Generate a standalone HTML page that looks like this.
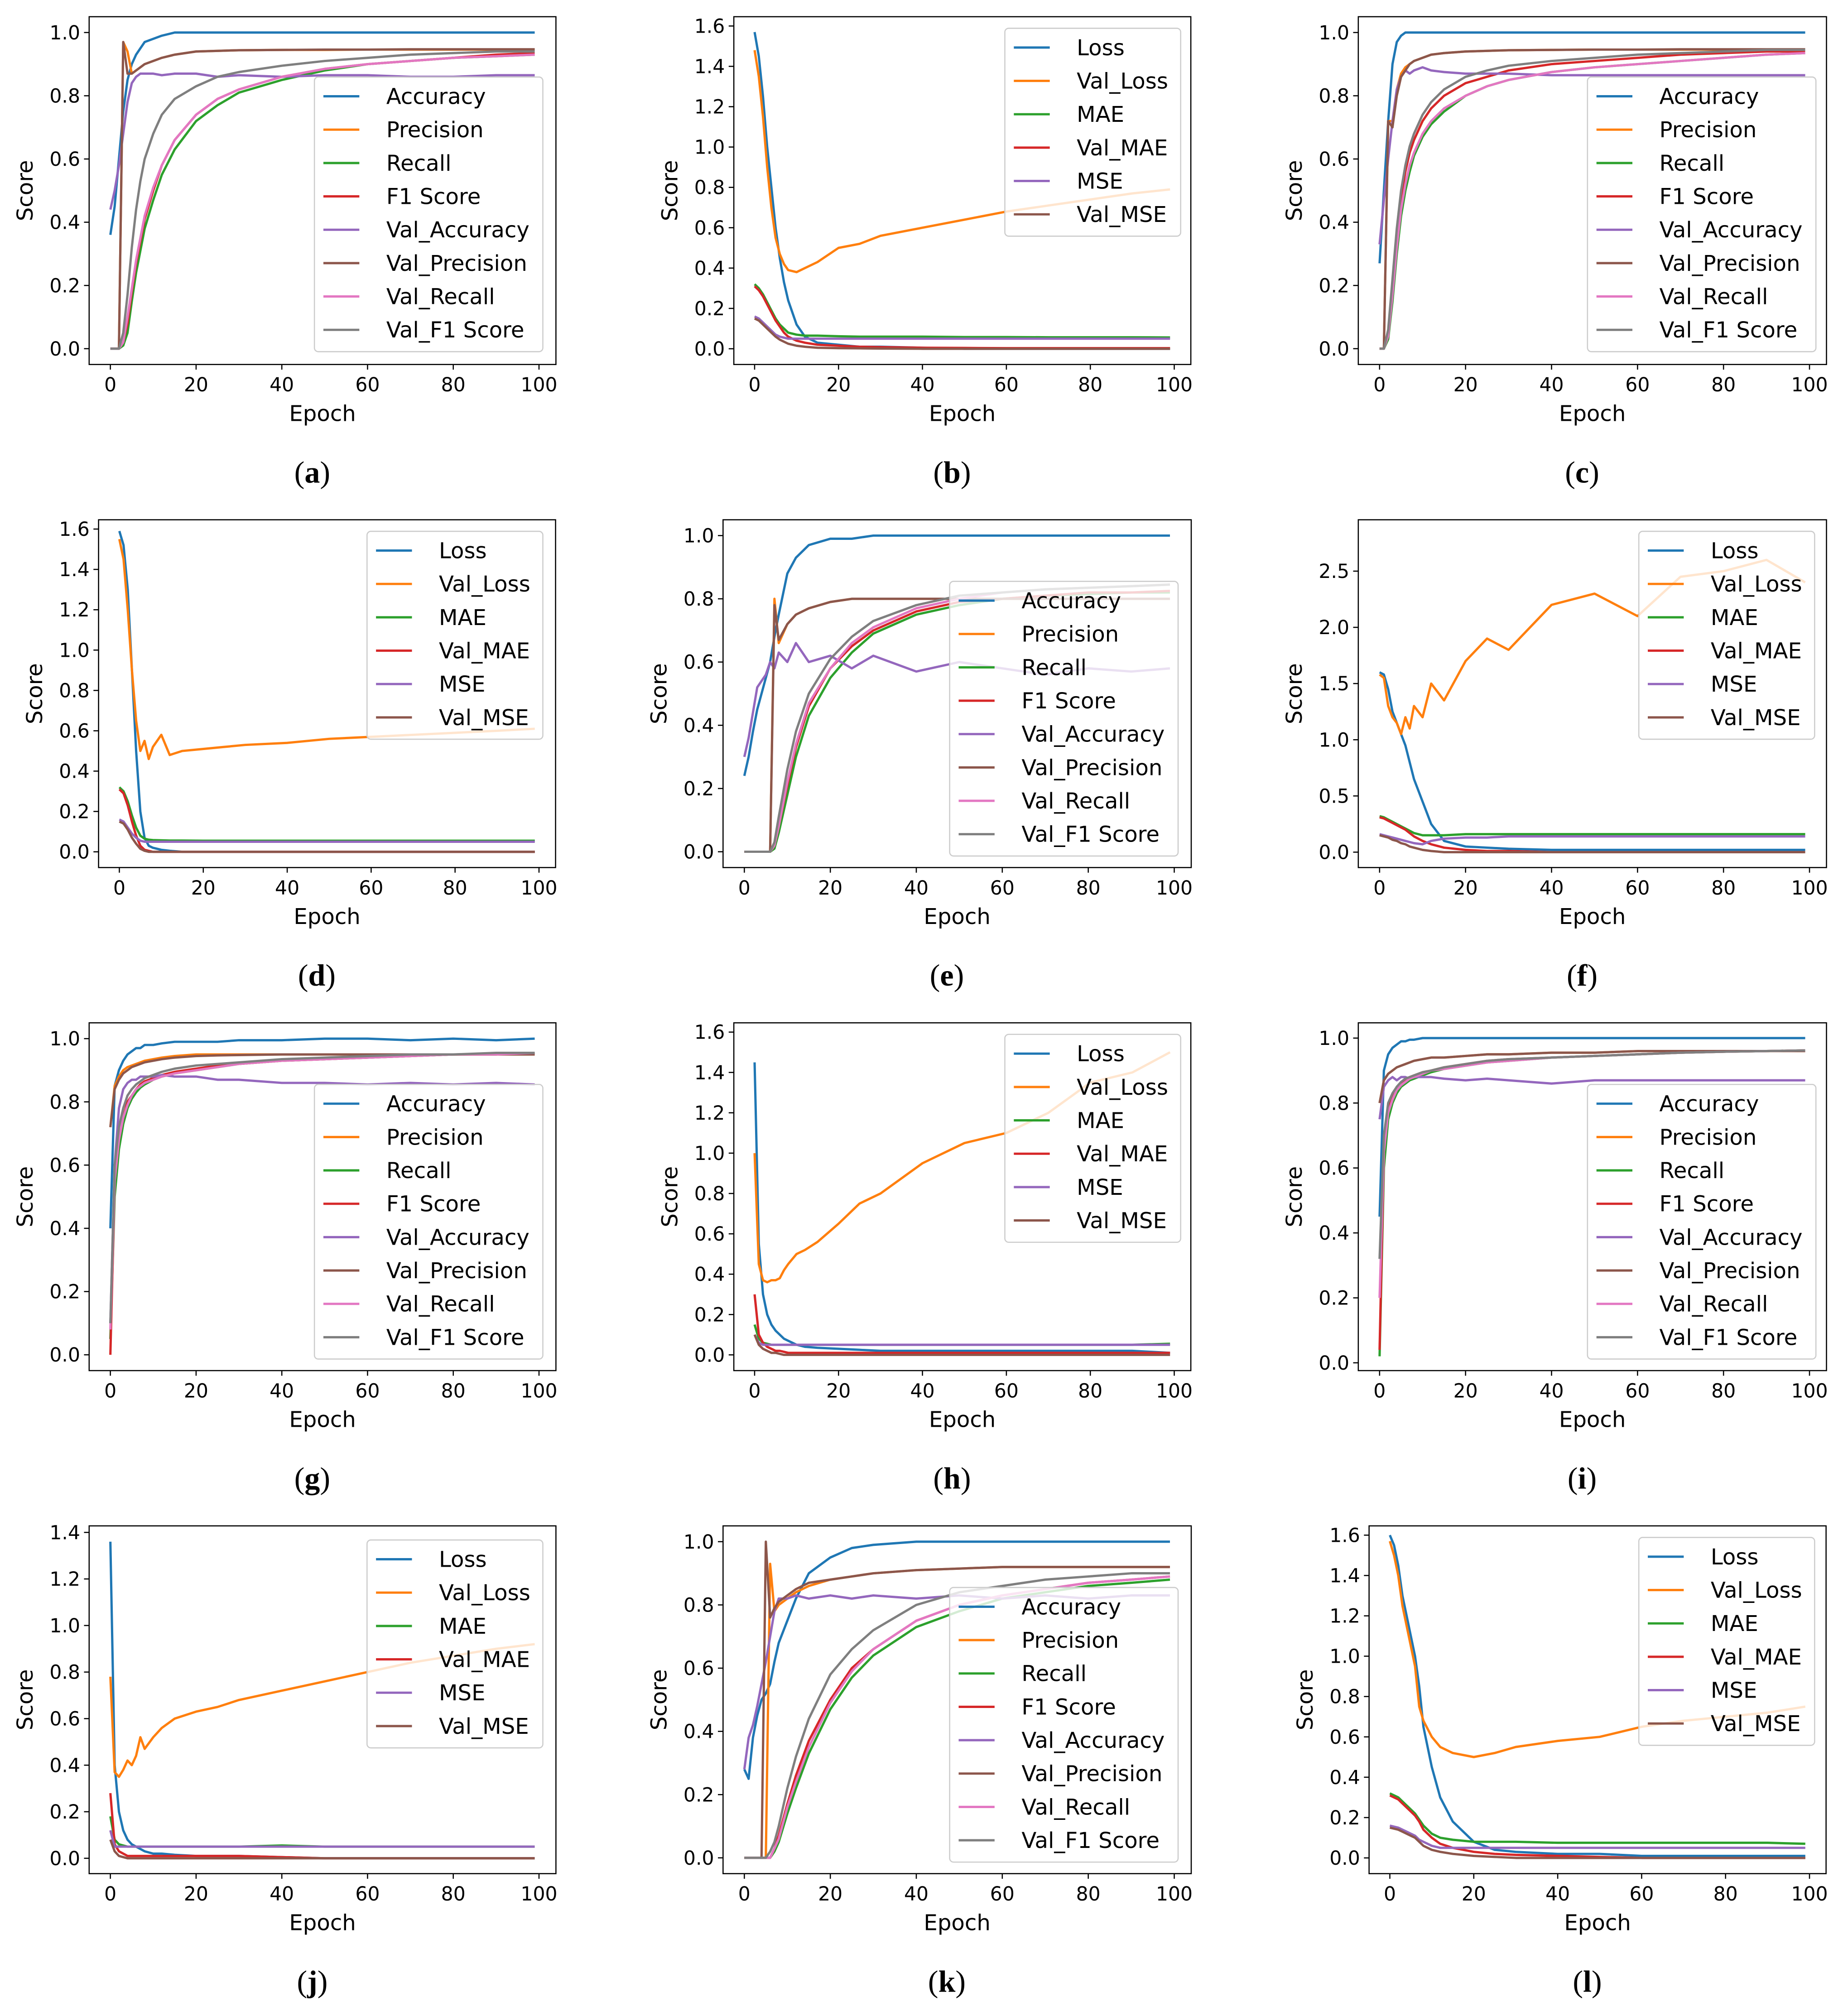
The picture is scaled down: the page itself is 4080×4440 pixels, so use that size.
<!DOCTYPE html>
<html><head><meta charset="utf-8"><style>
html,body{margin:0;padding:0;background:#fff;}
svg{display:block;}
</style></head><body>
<svg id="fig" width="4080" height="4440" viewBox="0 0 1440 1567" xmlns="http://www.w3.org/2000/svg"></svg>
<script>
const epochs=[0,1,2,3,4,5,6,7,8,10,12,15,20,25,30,40,50,60,70,80,90,99];
const scoreNames=["Accuracy","Precision","Recall","F1 Score","Val_Accuracy","Val_Precision","Val_Recall","Val_F1 Score"];
const lossNames=["Loss","Val_Loss","MAE","Val_MAE","MSE","Val_MSE"];
const colors=["#1f77b4","#ff7f0e","#2ca02c","#d62728","#9467bd","#8c564b","#e377c2","#7f7f7f"];
const scoreTicks=[0,0.2,0.4,0.6,0.8,1.0];
const lossTicks=[0,0.2,0.4,0.6,0.8,1.0,1.2,1.4,1.6];
const lossTicksF=[0,0.5,1.0,1.5,2.0,2.5];
const lossTicksJ=[0,0.2,0.4,0.6,0.8,1.0,1.2,1.4];
const xTicks=[0,20,40,60,80,100];

// (a)
const a_acc=[0.36,0.45,0.6,0.75,0.85,0.9,0.93,0.95,0.97,0.98,0.99,1,1,1,1,1,1,1,1,1,1,1];
const a_prec=[0,0,0,0.97,0.94,0.87,0.88,0.89,0.9,0.91,0.92,0.93,0.94,0.942,0.944,0.945,0.945,0.946,0.946,0.946,0.946,0.946];
const a_rec=[0,0,0,0.01,0.05,0.15,0.24,0.31,0.38,0.47,0.55,0.63,0.72,0.77,0.81,0.85,0.88,0.9,0.91,0.92,0.925,0.93];
const a_f1=[0,0,0,0.02,0.08,0.18,0.27,0.34,0.41,0.5,0.58,0.66,0.74,0.79,0.82,0.86,0.885,0.9,0.91,0.92,0.93,0.935];
const a_vacc=[0.44,0.5,0.58,0.68,0.78,0.84,0.86,0.87,0.87,0.87,0.865,0.87,0.87,0.86,0.865,0.86,0.865,0.865,0.86,0.86,0.865,0.865];
const a_vprec=[0,0,0,0.97,0.87,0.87,0.88,0.89,0.9,0.91,0.92,0.93,0.94,0.942,0.944,0.945,0.946,0.946,0.947,0.947,0.947,0.947];
const a_vrec=[0,0,0,0.02,0.1,0.19,0.28,0.35,0.42,0.51,0.58,0.66,0.74,0.79,0.82,0.86,0.885,0.9,0.91,0.92,0.925,0.93];
const a_vf1=[0,0,0,0.05,0.17,0.32,0.44,0.53,0.6,0.68,0.74,0.79,0.83,0.86,0.875,0.895,0.91,0.92,0.93,0.935,0.94,0.94];
// (b)
const b_loss=[1.57,1.45,1.25,1.0,0.8,0.6,0.45,0.33,0.24,0.12,0.06,0.03,0.02,0.01,0.01,0.005,0,0,0,0,0,0];
const b_vloss=[1.48,1.35,1.15,0.9,0.7,0.55,0.47,0.42,0.39,0.38,0.4,0.43,0.5,0.52,0.56,0.6,0.64,0.68,0.71,0.74,0.77,0.79];
const b_mae=[0.32,0.3,0.27,0.23,0.19,0.15,0.12,0.1,0.08,0.07,0.065,0.065,0.062,0.06,0.06,0.06,0.058,0.058,0.057,0.057,0.057,0.056];
const b_vmae=[0.31,0.29,0.26,0.22,0.18,0.14,0.11,0.08,0.06,0.04,0.03,0.02,0.015,0.01,0.008,0.005,0.004,0.003,0.003,0.003,0.003,0.003];
const b_mse=[0.16,0.15,0.13,0.11,0.09,0.07,0.06,0.055,0.05,0.05,0.05,0.05,0.05,0.05,0.05,0.05,0.05,0.05,0.05,0.05,0.05,0.05];
const b_vmse=[0.15,0.14,0.12,0.1,0.08,0.06,0.045,0.035,0.025,0.015,0.01,0.005,0.003,0.002,0.001,0,0,0,0,0,0,0];
// (c)
const c_acc=[0.27,0.5,0.72,0.9,0.97,0.99,1,1,1,1,1,1,1,1,1,1,1,1,1,1,1,1];
const c_prec=[0,0,0.72,0.72,0.82,0.87,0.89,0.9,0.91,0.92,0.93,0.935,0.94,0.942,0.944,0.945,0.946,0.946,0.946,0.946,0.946,0.946];
const c_rec=[0,0,0.03,0.15,0.3,0.42,0.5,0.56,0.61,0.67,0.71,0.75,0.8,0.83,0.85,0.875,0.89,0.9,0.91,0.92,0.93,0.935];
const c_f1=[0,0,0.05,0.2,0.36,0.48,0.56,0.62,0.66,0.72,0.76,0.8,0.84,0.86,0.88,0.9,0.91,0.92,0.93,0.935,0.94,0.94];
const c_vacc=[0.33,0.47,0.6,0.72,0.82,0.86,0.88,0.87,0.88,0.89,0.88,0.875,0.87,0.87,0.87,0.865,0.865,0.865,0.865,0.865,0.865,0.865];
const c_vprec=[0,0,0.72,0.7,0.8,0.86,0.88,0.9,0.91,0.92,0.93,0.935,0.94,0.942,0.944,0.945,0.946,0.946,0.947,0.947,0.947,0.947];
const c_vrec=[0,0,0.04,0.17,0.32,0.44,0.52,0.58,0.62,0.68,0.72,0.76,0.8,0.83,0.85,0.875,0.89,0.9,0.91,0.92,0.93,0.935];
const c_vf1=[0,0,0.06,0.22,0.38,0.5,0.58,0.64,0.68,0.74,0.78,0.82,0.86,0.88,0.895,0.91,0.92,0.93,0.935,0.94,0.945,0.945];
// (d)
const d_loss=[1.59,1.52,1.3,0.9,0.5,0.2,0.07,0.03,0.02,0.01,0.005,0,0,0,0,0,0,0,0,0,0,0];
const d_vloss=[1.55,1.45,1.2,0.9,0.65,0.5,0.55,0.46,0.52,0.58,0.48,0.5,0.51,0.52,0.53,0.54,0.56,0.57,0.58,0.59,0.6,0.61];
const d_mae=[0.32,0.3,0.25,0.18,0.12,0.08,0.065,0.06,0.058,0.057,0.056,0.056,0.055,0.055,0.055,0.055,0.055,0.055,0.055,0.055,0.055,0.055];
const d_vmae=[0.31,0.29,0.23,0.15,0.08,0.03,0.01,0.005,0,0,0,0,0,0,0,0,0,0,0,0,0,0];
const d_mse=[0.16,0.15,0.12,0.09,0.07,0.055,0.05,0.05,0.05,0.05,0.05,0.05,0.05,0.05,0.05,0.05,0.05,0.05,0.05,0.05,0.05,0.05];
const d_vmse=[0.15,0.14,0.11,0.07,0.04,0.015,0.005,0,0,0,0,0,0,0,0,0,0,0,0,0,0,0];
// (e)
const e_acc=[0.24,0.3,0.38,0.45,0.5,0.55,0.6,0.68,0.75,0.88,0.93,0.97,0.99,0.99,1,1,1,1,1,1,1,1];
const e_prec=[0,0,0,0,0,0,0,0.8,0.66,0.72,0.75,0.77,0.79,0.8,0.8,0.8,0.8,0.8,0.8,0.8,0.8,0.8];
const e_rec=[0,0,0,0,0,0,0,0.01,0.06,0.18,0.3,0.43,0.55,0.63,0.69,0.75,0.78,0.8,0.81,0.815,0.82,0.82];
const e_f1=[0,0,0,0,0,0,0,0.02,0.08,0.21,0.33,0.46,0.58,0.65,0.7,0.76,0.79,0.8,0.81,0.82,0.82,0.825];
const e_vacc=[0.3,0.36,0.44,0.52,0.54,0.56,0.6,0.58,0.63,0.6,0.66,0.6,0.62,0.58,0.62,0.57,0.6,0.58,0.56,0.58,0.57,0.58];
const e_vprec=[0,0,0,0,0,0,0,0.78,0.67,0.72,0.75,0.77,0.79,0.8,0.8,0.8,0.8,0.8,0.8,0.8,0.8,0.8];
const e_vrec=[0,0,0,0,0,0,0,0.02,0.08,0.22,0.34,0.47,0.58,0.66,0.71,0.77,0.8,0.82,0.83,0.835,0.84,0.845];
const e_vf1=[0,0,0,0,0,0,0,0.03,0.11,0.26,0.38,0.5,0.61,0.68,0.73,0.78,0.81,0.82,0.83,0.835,0.84,0.845];
// (f)
const f_loss=[1.6,1.58,1.45,1.25,1.15,1.05,0.95,0.8,0.65,0.45,0.25,0.1,0.05,0.04,0.03,0.02,0.02,0.02,0.02,0.02,0.02,0.02];
const f_vloss=[1.58,1.55,1.3,1.2,1.15,1.05,1.2,1.1,1.3,1.2,1.5,1.35,1.7,1.9,1.8,2.2,2.3,2.1,2.45,2.5,2.6,2.4];
const f_mae=[0.32,0.31,0.29,0.27,0.25,0.23,0.21,0.19,0.17,0.15,0.15,0.15,0.16,0.16,0.16,0.16,0.16,0.16,0.16,0.16,0.16,0.16];
const f_vmae=[0.31,0.3,0.28,0.26,0.24,0.22,0.2,0.17,0.14,0.1,0.07,0.04,0.02,0.01,0.01,0,0,0,0,0,0,0];
const f_mse=[0.16,0.15,0.14,0.13,0.12,0.11,0.1,0.09,0.08,0.07,0.1,0.12,0.13,0.13,0.14,0.14,0.14,0.14,0.14,0.14,0.14,0.14];
const f_vmse=[0.15,0.14,0.13,0.11,0.1,0.08,0.07,0.05,0.04,0.02,0.01,0,0,0,0,0,0,0,0,0,0,0];
// (g)
const g_acc=[0.4,0.85,0.9,0.93,0.95,0.96,0.97,0.97,0.98,0.98,0.985,0.99,0.99,0.99,0.995,0.995,1,1,0.995,1,0.995,1];
const g_prec=[0.72,0.85,0.88,0.9,0.91,0.915,0.92,0.925,0.93,0.935,0.94,0.945,0.95,0.95,0.95,0.95,0.95,0.95,0.95,0.95,0.95,0.95];
const g_rec=[0.05,0.5,0.65,0.73,0.78,0.81,0.83,0.845,0.855,0.87,0.88,0.89,0.9,0.91,0.92,0.93,0.935,0.94,0.945,0.95,0.95,0.955];
const g_f1=[0,0.55,0.68,0.75,0.8,0.82,0.84,0.855,0.865,0.875,0.885,0.895,0.905,0.915,0.92,0.93,0.935,0.94,0.945,0.95,0.95,0.955];
const g_vacc=[0.1,0.6,0.78,0.84,0.86,0.87,0.87,0.88,0.88,0.88,0.885,0.88,0.88,0.87,0.87,0.86,0.86,0.855,0.86,0.855,0.86,0.855];
const g_vprec=[0.72,0.84,0.87,0.89,0.9,0.91,0.915,0.92,0.925,0.93,0.935,0.94,0.945,0.947,0.948,0.95,0.95,0.95,0.95,0.95,0.95,0.95];
const g_vrec=[0.08,0.55,0.68,0.75,0.79,0.82,0.84,0.85,0.86,0.87,0.88,0.89,0.9,0.91,0.92,0.93,0.935,0.94,0.945,0.95,0.95,0.955];
const g_vf1=[0.1,0.6,0.72,0.78,0.82,0.84,0.855,0.865,0.875,0.885,0.895,0.905,0.915,0.92,0.925,0.935,0.94,0.945,0.95,0.95,0.955,0.955];
// (h)
const h_loss=[1.45,0.55,0.3,0.2,0.15,0.12,0.1,0.08,0.07,0.05,0.04,0.035,0.03,0.025,0.02,0.02,0.02,0.02,0.02,0.02,0.02,0.01];
const h_vloss=[1.0,0.45,0.37,0.36,0.37,0.37,0.38,0.42,0.45,0.5,0.52,0.56,0.65,0.75,0.8,0.95,1.05,1.1,1.2,1.35,1.4,1.5];
const h_mae=[0.15,0.08,0.06,0.055,0.05,0.05,0.05,0.05,0.05,0.05,0.05,0.05,0.05,0.05,0.05,0.05,0.05,0.05,0.05,0.05,0.05,0.055];
const h_vmae=[0.3,0.1,0.06,0.04,0.03,0.02,0.02,0.015,0.01,0.01,0.01,0.01,0.01,0.01,0.01,0.01,0.01,0.01,0.01,0.01,0.01,0.01];
const h_mse=[0.1,0.06,0.05,0.05,0.05,0.05,0.05,0.05,0.05,0.05,0.05,0.05,0.05,0.05,0.05,0.05,0.05,0.05,0.05,0.05,0.05,0.05];
const h_vmse=[0.1,0.05,0.03,0.02,0.01,0.01,0.005,0,0,0,0,0,0,0,0,0,0,0,0,0,0,0];
// (i)
const i_acc=[0.45,0.9,0.95,0.97,0.98,0.99,0.99,0.995,0.995,1,1,1,1,1,1,1,1,1,1,1,1,1];
const i_prec=[0.8,0.87,0.89,0.9,0.91,0.915,0.92,0.925,0.93,0.935,0.94,0.94,0.945,0.95,0.95,0.955,0.955,0.96,0.96,0.96,0.96,0.96];
const i_rec=[0.02,0.6,0.75,0.8,0.83,0.85,0.86,0.87,0.875,0.885,0.895,0.905,0.915,0.925,0.93,0.94,0.945,0.95,0.955,0.958,0.96,0.962];
const i_f1=[0.04,0.65,0.78,0.82,0.85,0.86,0.87,0.88,0.885,0.895,0.9,0.91,0.92,0.93,0.935,0.94,0.945,0.95,0.955,0.958,0.96,0.962];
const i_vacc=[0.75,0.85,0.87,0.88,0.87,0.88,0.88,0.875,0.88,0.88,0.88,0.875,0.87,0.875,0.87,0.86,0.87,0.87,0.87,0.87,0.87,0.87];
const i_vprec=[0.8,0.87,0.89,0.9,0.91,0.915,0.92,0.925,0.93,0.935,0.94,0.94,0.945,0.95,0.95,0.955,0.955,0.96,0.96,0.96,0.96,0.96];
const i_vrec=[0.2,0.65,0.77,0.81,0.84,0.855,0.865,0.875,0.88,0.89,0.9,0.905,0.915,0.925,0.93,0.94,0.945,0.95,0.955,0.958,0.96,0.962];
const i_vf1=[0.32,0.7,0.8,0.83,0.85,0.865,0.875,0.88,0.885,0.895,0.9,0.91,0.92,0.93,0.935,0.94,0.945,0.95,0.955,0.958,0.96,0.962];
// (j)
const j_loss=[1.36,0.4,0.2,0.12,0.08,0.06,0.05,0.04,0.03,0.02,0.02,0.015,0.01,0.01,0.01,0.005,0,0,0,0,0,0];
const j_vloss=[0.78,0.37,0.35,0.38,0.42,0.4,0.44,0.52,0.47,0.52,0.56,0.6,0.63,0.65,0.68,0.72,0.76,0.8,0.84,0.87,0.9,0.92];
const j_mae=[0.18,0.08,0.06,0.055,0.05,0.05,0.05,0.05,0.05,0.05,0.05,0.05,0.05,0.05,0.05,0.055,0.05,0.05,0.05,0.05,0.05,0.05];
const j_vmae=[0.28,0.06,0.03,0.02,0.01,0.01,0.01,0.01,0.01,0.01,0.01,0.01,0.01,0.01,0.01,0.005,0,0,0,0,0,0];
const j_mse=[0.12,0.05,0.05,0.05,0.05,0.05,0.05,0.05,0.05,0.05,0.05,0.05,0.05,0.05,0.05,0.05,0.05,0.05,0.05,0.05,0.05,0.05];
const j_vmse=[0.08,0.03,0.01,0.005,0,0,0,0,0,0,0,0,0,0,0,0,0,0,0,0,0,0];
// (k)
const k_acc=[0.28,0.25,0.38,0.45,0.5,0.52,0.55,0.62,0.68,0.75,0.82,0.9,0.95,0.98,0.99,1,1,1,1,1,1,1];
const k_prec=[0,0,0,0,0,0,0.93,0.78,0.8,0.82,0.84,0.86,0.88,0.89,0.9,0.91,0.915,0.92,0.92,0.92,0.92,0.92];
const k_rec=[0,0,0,0,0,0,0,0.02,0.05,0.14,0.22,0.33,0.47,0.57,0.64,0.73,0.78,0.82,0.84,0.86,0.87,0.88];
const k_f1=[0,0,0,0,0,0,0,0.03,0.07,0.17,0.26,0.37,0.5,0.6,0.66,0.75,0.8,0.83,0.85,0.87,0.88,0.89];
const k_vacc=[0.28,0.38,0.42,0.48,0.55,0.62,0.7,0.78,0.82,0.82,0.83,0.82,0.83,0.82,0.83,0.82,0.83,0.82,0.83,0.82,0.83,0.83];
const k_vprec=[0,0,0,0,0,1.0,0.76,0.79,0.81,0.83,0.85,0.87,0.88,0.89,0.9,0.91,0.915,0.92,0.92,0.92,0.92,0.92];
const k_vrec=[0,0,0,0,0,0,0,0.03,0.06,0.16,0.24,0.35,0.49,0.59,0.66,0.75,0.8,0.83,0.85,0.87,0.88,0.89];
const k_vf1=[0,0,0,0,0,0,0.02,0.05,0.1,0.22,0.32,0.44,0.58,0.66,0.72,0.8,0.84,0.86,0.88,0.89,0.9,0.9];
// (l)
const l_loss=[1.6,1.55,1.45,1.3,1.2,1.1,1.0,0.85,0.65,0.45,0.3,0.18,0.08,0.04,0.03,0.02,0.02,0.01,0.01,0.01,0.01,0.01];
const l_vloss=[1.57,1.5,1.4,1.25,1.15,1.05,0.95,0.75,0.68,0.6,0.55,0.52,0.5,0.52,0.55,0.58,0.6,0.65,0.68,0.7,0.72,0.75];
const l_mae=[0.32,0.31,0.3,0.28,0.26,0.24,0.22,0.19,0.16,0.12,0.1,0.09,0.08,0.08,0.08,0.075,0.075,0.075,0.075,0.075,0.075,0.07];
const l_vmae=[0.31,0.3,0.29,0.27,0.25,0.23,0.21,0.18,0.14,0.1,0.07,0.05,0.03,0.02,0.015,0.01,0.005,0,0,0,0,0];
const l_mse=[0.16,0.155,0.15,0.14,0.13,0.12,0.11,0.09,0.08,0.06,0.05,0.05,0.05,0.05,0.05,0.05,0.05,0.05,0.05,0.05,0.05,0.05];
const l_vmse=[0.15,0.145,0.14,0.13,0.12,0.11,0.1,0.08,0.06,0.04,0.03,0.02,0.01,0.005,0,0,0,0,0,0,0,0];

const NS="http://www.w3.org/2000/svg";
const svg=document.getElementById('fig');
function el(tag,attrs,parent){const e=document.createElementNS(NS,tag);for(const k in attrs)e.setAttribute(k,attrs[k]);(parent||svg).appendChild(e);return e;}

const panels=[
 {id:'a',x0:86,x100:420,top:13,ylim:[-0.05,1.05],ticks:scoreTicks,dig:1,names:scoreNames,series:[a_acc,a_prec,a_rec,a_f1,a_vacc,a_vprec,a_vrec,a_vf1],leg:[245,60]},
 {id:'b',x0:588,x100:915,top:13,ylim:[-0.078,1.646],ticks:lossTicks,dig:1,names:lossNames,series:[b_loss,b_vloss,b_mae,b_vmae,b_mse,b_vmse],leg:[783,22]},
 {id:'c',x0:1075,x100:1410,top:13,ylim:[-0.05,1.05],ticks:scoreTicks,dig:1,names:scoreNames,series:[c_acc,c_prec,c_rec,c_f1,c_vacc,c_vprec,c_vrec,c_vf1],leg:[1237,60]},
 {id:'d',x0:93,x100:420,top:405,ylim:[-0.078,1.646],ticks:lossTicks,dig:1,names:lossNames,series:[d_loss,d_vloss,d_mae,d_vmae,d_mse,d_vmse],leg:[286,414]},
 {id:'e',x0:580,x100:915,top:405,ylim:[-0.05,1.05],ticks:scoreTicks,dig:1,names:scoreNames,series:[e_acc,e_prec,e_rec,e_f1,e_vacc,e_vprec,e_vrec,e_vf1],leg:[740,453]},
 {id:'f',x0:1075,x100:1410,top:405,ylim:[-0.137,2.957],ticks:lossTicksF,dig:1,names:lossNames,series:[f_loss,f_vloss,f_mae,f_vmae,f_mse,f_vmse],leg:[1277,414]},
 {id:'g',x0:86,x100:420,top:797,ylim:[-0.05,1.05],ticks:scoreTicks,dig:1,names:scoreNames,series:[g_acc,g_prec,g_rec,g_f1,g_vacc,g_vprec,g_vrec,g_vf1],leg:[245,845]},
 {id:'h',x0:588,x100:915,top:797,ylim:[-0.078,1.646],ticks:lossTicks,dig:1,names:lossNames,series:[h_loss,h_vloss,h_mae,h_vmae,h_mse,h_vmse],leg:[783,806]},
 {id:'i',x0:1075,x100:1410,top:797,ylim:[-0.024,1.047],ticks:scoreTicks,dig:1,names:scoreNames,series:[i_acc,i_prec,i_rec,i_f1,i_vacc,i_vprec,i_vrec,i_vf1],leg:[1237,845]},
 {id:'j',x0:86,x100:420,top:1189,ylim:[-0.066,1.428],ticks:lossTicksJ,dig:1,names:lossNames,series:[j_loss,j_vloss,j_mae,j_vmae,j_mse,j_vmse],leg:[286,1200]},
 {id:'k',x0:580,x100:915,top:1189,ylim:[-0.05,1.05],ticks:scoreTicks,dig:1,names:scoreNames,series:[k_acc,k_prec,k_rec,k_f1,k_vacc,k_vprec,k_vrec,k_vf1],leg:[740,1237]},
 {id:'l',x0:1083,x100:1410,top:1189,ylim:[-0.078,1.646],ticks:lossTicks,dig:1,names:lossNames,series:[l_loss,l_vloss,l_mae,l_vmae,l_mse,l_vmse],leg:[1277,1198]}
];

const FONT='"DejaVu Sans","Liberation Sans",sans-serif';
panels.forEach(p=>{
  const ppu=(p.x100-p.x0)/100;
  const L=p.x0-4.95*ppu, R=p.x0+103.95*ppu, T=p.top, B=p.top+271;
  const xs=v=>p.x0+v*ppu;
  const ys=v=>B-(v-p.ylim[0])/(p.ylim[1]-p.ylim[0])*(B-T);
  const g=el('g',{});
  
  
  const sg=el('g',{},g);
  p.series.forEach((arr,si)=>{
    const d=arr.map((v,k)=>(k?'L':'M')+xs(epochs[k]).toFixed(2)+','+ys(v).toFixed(2)).join('');
    const path=el('path',{d:d,fill:'none',stroke:colors[si],'stroke-width':1.8,'stroke-linejoin':'round'},sg);
    
    
  });
  const fr=el('rect',{x:L,y:T,width:R-L,height:B-T,fill:'none',stroke:'#000','stroke-width':0.9},g);
  
  
  xTicks.forEach(t=>{
    const x=xs(t);
    el('line',{x1:x,x2:x,y1:B,y2:B+4,stroke:'#000','stroke-width':0.9},g);
    const tx=el('text',{x:x,y:B+21,'font-size':15,'font-family':FONT,'text-anchor':'middle',fill:'#000'},g);
    tx.textContent=String(t);
    
    
  });
  p.ticks.forEach(t=>{
    const y=ys(t);
    el('line',{x1:L-4,x2:L,y1:y,y2:y,stroke:'#000','stroke-width':0.9},g);
    const tx=el('text',{x:L-7,y:y+5.3,'font-size':15,'font-family':FONT,'text-anchor':'end',fill:'#000'},g);
    tx.textContent=t.toFixed(p.dig);
    
    
  });
  const xl=el('text',{x:(L+R)/2,y:B+44,'font-size':17,'font-family':FONT,'text-anchor':'middle'},g);
  xl.textContent='Epoch';
  
  
  const yl=el('text',{x:0,y:0,'font-size':17,'font-family':FONT,'text-anchor':'middle',transform:`translate(${L-44},${(T+B)/2}) rotate(-90)`},g);
  yl.textContent='Score';
  
  
  const lx=p.leg[0], ly=p.leg[1], n=p.names.length;
  const lw=n===8?178:137, lh=n*26+6;
  const lg=el('g',{},g);
  
  
  el('rect',{x:lx,y:ly,width:lw,height:lh,rx:3,fill:'#fff','fill-opacity':0.8,stroke:'#ccc','stroke-width':0.9},lg);
  p.names.forEach((nm,si)=>{
    const cy=ly+15+si*26;
    const e=el('g',{},lg);
    
    
    el('line',{x1:lx+7,x2:lx+35,y1:cy,y2:cy,stroke:colors[si],'stroke-width':1.8},e);
    const t=el('text',{x:lx+56,y:cy+6,'font-size':17,'font-family':FONT},e);
    t.textContent=nm;
  });
  const sl=el('text',{x:(L+R)/2-8,y:B+92,'font-size':24,'font-family':'"Liberation Serif",serif','text-anchor':'middle'},g);
  sl.innerHTML='(<tspan font-weight="bold">'+p.id+'</tspan>)';
  
  
});
</script>
</body></html>
